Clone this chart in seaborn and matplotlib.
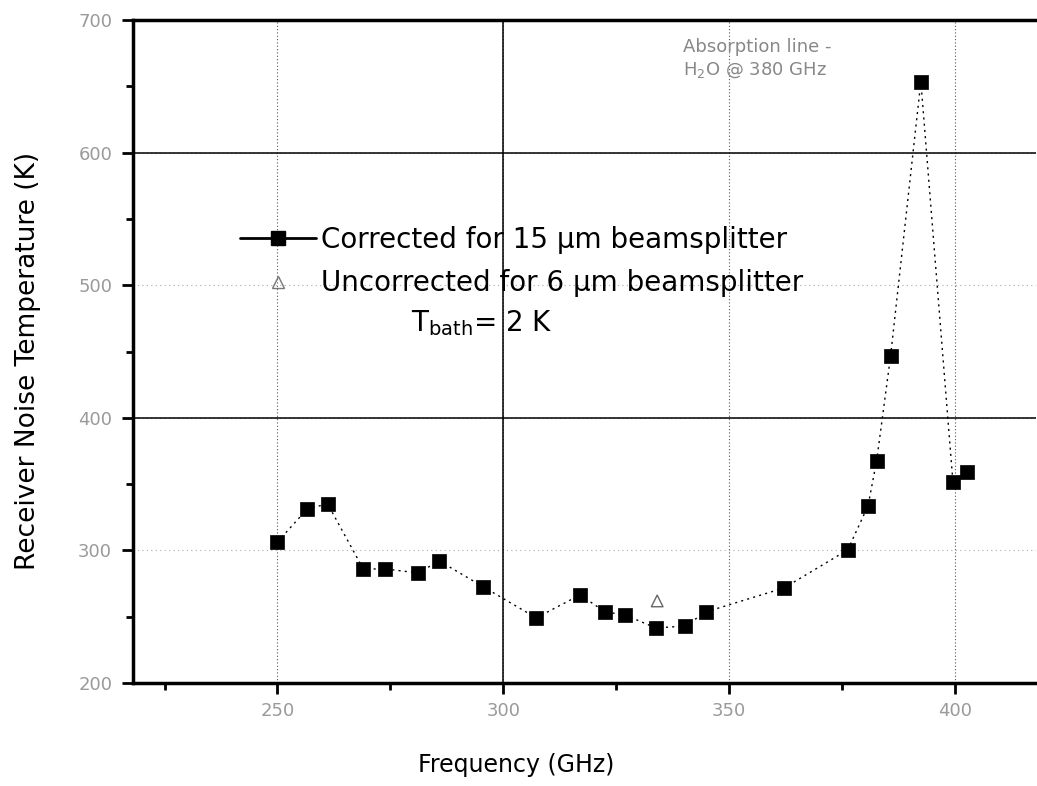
import matplotlib
matplotlib.use("Agg")
import matplotlib.pyplot as plt
import seaborn as sns
import pandas as pd
from matplotlib.lines import Line2D
from matplotlib.ticker import MultipleLocator

# ---- data ----
freq_corrected = [250.0, 256.6, 261.1, 269.0, 273.9, 281.2, 285.8, 295.6, 307.3,
                  317.0, 322.6, 327.0, 333.8, 340.3, 344.9, 362.2, 376.3, 380.8,
                  382.7, 385.8, 392.5, 399.6, 402.7]
temp_corrected = [306.4, 331.3, 335.1, 286.0, 286.0, 283.0, 292.1, 272.5, 249.1,
                  266.4, 253.6, 251.3, 241.5, 243.0, 253.6, 271.7, 300.4, 333.6,
                  367.5, 446.8, 653.6, 351.7, 359.2]
freq_uncorrected = [334.1]
temp_uncorrected = [261.9]

x_ticks = [250, 300, 350, 400]
y_ticks = [200, 300, 400, 500, 600, 700]
label_corr = "Corrected for 15 \u00b5m beamsplitter"
label_uncorr = "Uncorrected for 6 \u00b5m beamsplitter"

df_c = pd.DataFrame({"freq": freq_corrected, "temp": temp_corrected})
df_u = pd.DataFrame({"freq": freq_uncorrected, "temp": temp_uncorrected})

sns.set_style("white")
plt.rcParams["font.family"] = ["DejaVu Sans"]
plt.rcParams["text.color"] = "black"

fig = plt.figure(figsize=(10.37, 7.86), dpi=100)
ax = fig.add_axes([133 / 1037, 1 - 683 / 786, (1036 - 133) / 1037, (683 - 20) / 786])

# grid
for xv in x_ticks:
    ax.axvline(xv, color="#555555", lw=0.8, ls=(0, (1, 2)), zorder=0)
for yv in y_ticks[1:-1]:
    ax.axhline(yv, color="#aaaaaa", lw=0.8, ls=(0, (1, 3)), zorder=0)
for yv in y_ticks[2:-1:2]:
    ax.axhline(yv, color="black", lw=1.1, zorder=0)
ax.axvline(x_ticks[1], color="black", lw=1.1, zorder=0)

sns.lineplot(data=df_c, x="freq", y="temp", sort=False, ax=ax, color="black",
             lw=1.0, linestyle=(0, (1.5, 3)), legend=False)
sns.scatterplot(data=df_c, x="freq", y="temp", ax=ax, marker="s", s=110,
                color="black", edgecolor="black", linewidth=0.5, legend=False, zorder=3)
sns.scatterplot(data=df_u, x="freq", y="temp", ax=ax, marker="^", s=70,
                facecolor="none", edgecolor="#666666", linewidth=1.0, legend=False, zorder=3)

ax.set_xlim(218, 418)
ax.set_ylim(200, 700)
ax.set_xticks(x_ticks)
ax.set_yticks(y_ticks)
ax.xaxis.set_minor_locator(MultipleLocator(25))
ax.yaxis.set_minor_locator(MultipleLocator(50))
ax.tick_params(axis="both", which="both", bottom=True, left=True, top=False, right=False)
ax.tick_params(axis="both", which="major", direction="out", length=8, width=2,
               color="black", labelsize=13, labelcolor="#9a9a9a")
ax.tick_params(axis="both", which="minor", direction="out", length=5, width=2, color="black")
ax.tick_params(axis="y", which="major", pad=7)
ax.tick_params(axis="x", which="major", pad=6)

for side in ["left", "bottom", "top"]:
    ax.spines[side].set_visible(True)
    ax.spines[side].set_linewidth(2.5)
    ax.spines[side].set_color("black")
ax.spines["right"].set_visible(False)

ax.set_xlabel("Frequency (GHz)", fontsize=17, color="black")
ax.set_ylabel("Receiver Noise Temperature (K)", fontsize=19, color="black")
ax.xaxis.set_label_coords((516 - 133) / 903, (683 - 753) / 663)
ax.yaxis.set_label_coords((41 - 133) / 903, (683 - 361) / 663)

handles = [
    Line2D([], [], color="black", lw=2, marker="s", markersize=10),
    Line2D([], [], ls="none", marker="^", markerfacecolor="none",
           markeredgecolor="#777777", markersize=9),
]
leg = ax.legend(handles, [label_corr, label_uncorr], loc="upper left",
                bbox_to_anchor=(240 / 1037, 1 - 226 / 786), bbox_transform=fig.transFigure,
                frameon=False, fontsize=20, handlelength=2.75, handletextpad=0.15,
                labelspacing=0.55, borderpad=0, borderaxespad=0, labelcolor="black")

fig.text(411 / 1037, 1 - 323 / 786, r"T$_{\mathregular{bath}}$= 2 K", fontsize=20,
         va="center", ha="left", color="black")

ax.text(683 / 1037, 1 - 47 / 786, "Absorption line -", transform=fig.transFigure,
        fontsize=13, color="#888888", va="center", ha="left")
ax.text(683 / 1037, 1 - 70 / 786, r"H$_2$O @ 380 GHz", transform=fig.transFigure,
        fontsize=13, color="#888888", va="center", ha="left")

fig.savefig("out.png", dpi=100)
